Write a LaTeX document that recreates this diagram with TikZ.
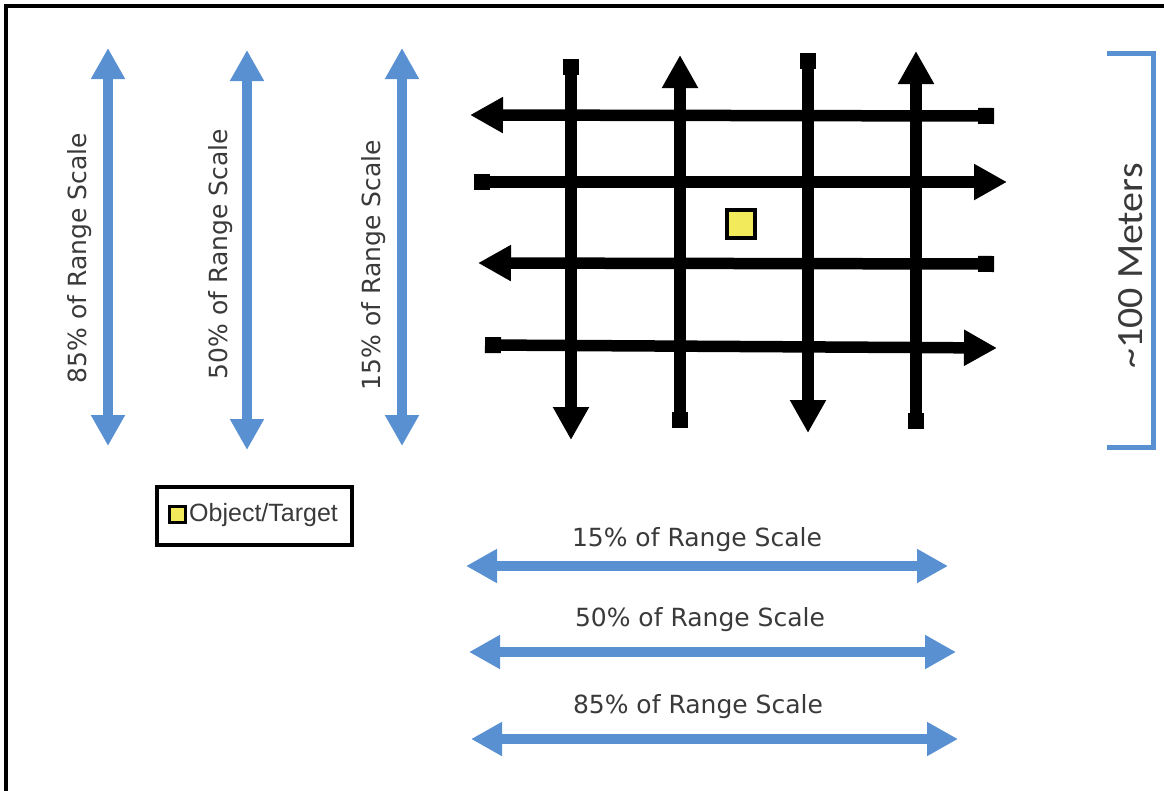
\documentclass[tikz,border=0pt]{standalone}
\usepackage{fontspec}
\setmainfont{DejaVu Sans}
\newfontfamily\arialfont{Liberation Sans}
\newfontfamily\calfont{Carlito}
\usetikzlibrary{arrows.meta}
\definecolor{bluearr}{HTML}{5890D2}
\definecolor{txtgray}{HTML}{3A3A3A}
\definecolor{tyellow}{HTML}{F2EA5A}
\tikzset{
  x=1pt, y=-1pt,
  bluedbl/.style={draw=bluearr, line width=9.5pt,
    {Triangle[width=32pt,length=31pt]}-{Triangle[width=32pt,length=31pt]}},
  gridarrow/.style={draw=black, line width=11.5pt},
  rangelabel/.style={font=\fontsize{25}{28}\selectfont, text=txtgray, inner sep=0pt},
}
\begin{document}
\begin{tikzpicture}
\useasboundingbox (0,0) rectangle (1164,790);
\fill[white] (0,0) rectangle (1164,790);
% frame
\coordinate (fbl) at (6,792);
\coordinate (ftl) at (6,6);
\coordinate (ftr) at (1166,6);
\draw[line width=3.5pt] (fbl) -- (ftl) -- (ftr);

% vertical blue arrows
\coordinate (v1t) at (108,48);  \coordinate (v1b) at (108,446);
\coordinate (v2t) at (247,50);  \coordinate (v2b) at (247,450);
\coordinate (v3t) at (402,48);  \coordinate (v3b) at (402,446);
\draw[bluedbl] (v1t) -- (v1b);
\draw[bluedbl] (v2t) -- (v2b);
\draw[bluedbl] (v3t) -- (v3b);
\node[rangelabel, rotate=90] (l85v) at (80,258) {85\% of Range Scale};
\node[rangelabel, rotate=90] (l50v) at (221,254) {50\% of Range Scale};
\node[rangelabel, rotate=90] (l15v) at (374,265) {15\% of Range Scale};

% horizontal blue arrows
\coordinate (h1l) at (466,566); \coordinate (h1r) at (948,566);
\coordinate (h2l) at (469,652); \coordinate (h2r) at (956,652);
\coordinate (h3l) at (471,739); \coordinate (h3r) at (958,739);
\draw[bluedbl] (h1l) -- (h1r);
\draw[bluedbl] (h2l) -- (h2r);
\draw[bluedbl] (h3l) -- (h3r);
\node[rangelabel] (l15h) at (697,540) {15\% of Range Scale};
\node[rangelabel] (l50h) at (700,620) {50\% of Range Scale};
\node[rangelabel] (l85h) at (698,707) {85\% of Range Scale};

% black grid: vertical lines
\coordinate (g1t) at (571,59);  \coordinate (g1b) at (571,440);
\coordinate (g2t) at (680,55);  \coordinate (g2b) at (680,428);
\coordinate (g3t) at (808,53);  \coordinate (g3b) at (808,433);
\coordinate (g4t) at (916,51);  \coordinate (g4b) at (916,429);
\draw[gridarrow, {Square[width=16pt,length=16pt]}-{Triangle[width=34pt,length=33pt]}] (g1t) -- (g1b);
\draw[gridarrow, {Triangle[width=34pt,length=33pt]}-{Square[width=16pt,length=16pt]}] (g2t) -- (g2b);
\draw[gridarrow, {Square[width=16pt,length=16pt]}-{Triangle[width=34pt,length=33pt]}] (g3t) -- (g3b);
\draw[gridarrow, {Triangle[width=34pt,length=33pt]}-{Square[width=16pt,length=16pt]}] (g4t) -- (g4b);
% black grid: horizontal lines
\coordinate (r1l) at (470,115); \coordinate (r1r) at (994,116);
\coordinate (r2l) at (474,182); \coordinate (r2r) at (1007,182);
\coordinate (r3l) at (478,263); \coordinate (r3r) at (994,264);
\coordinate (r4l) at (485,345); \coordinate (r4r) at (997,348);
\draw[gridarrow, {Triangle[width=34pt,length=33pt]}-{Square[width=16pt,length=16pt]}] (r1l) -- (r1r);
\draw[gridarrow, {Square[width=16pt,length=16pt]}-{Triangle[width=34pt,length=33pt]}] (r2l) -- (r2r);
\draw[gridarrow, {Triangle[width=34pt,length=33pt]}-{Square[width=16pt,length=16pt]}] (r3l) -- (r3r);
\draw[gridarrow, {Square[width=16pt,length=16pt]}-{Triangle[width=34pt,length=33pt]}] (r4l) -- (r4r);

% target
\node[draw=black, line width=4.5pt, fill=tyellow, minimum size=28pt, inner sep=0pt] (target) at (741,224) {};

% legend
\node[draw=black, line width=4pt, minimum width=195pt, minimum height=58pt, inner sep=0pt] (legend) at (254,516) {};
\node[draw=black, line width=3pt, fill=tyellow, minimum size=16pt, inner sep=0pt] (legsq) at (177,514) {};
\node[anchor=west, inner sep=0pt, font=\arialfont\fontsize{25}{27}\selectfont, text=txtgray] (legtxt) at (189,515) {Object/Target};

% bracket
\coordinate (bt) at (1107,53);
\coordinate (bb) at (1107,447);
\draw[draw=bluearr, line width=5pt] (bt) -| (1153,447) -- (bb);
\node[rotate=90, inner sep=0pt, font=\calfont\fontsize{37}{40}\selectfont, text=txtgray, xscale=1.08] (meters) at (1131,266) {\textasciitilde 100 Meters};
\end{tikzpicture}
\end{document}
